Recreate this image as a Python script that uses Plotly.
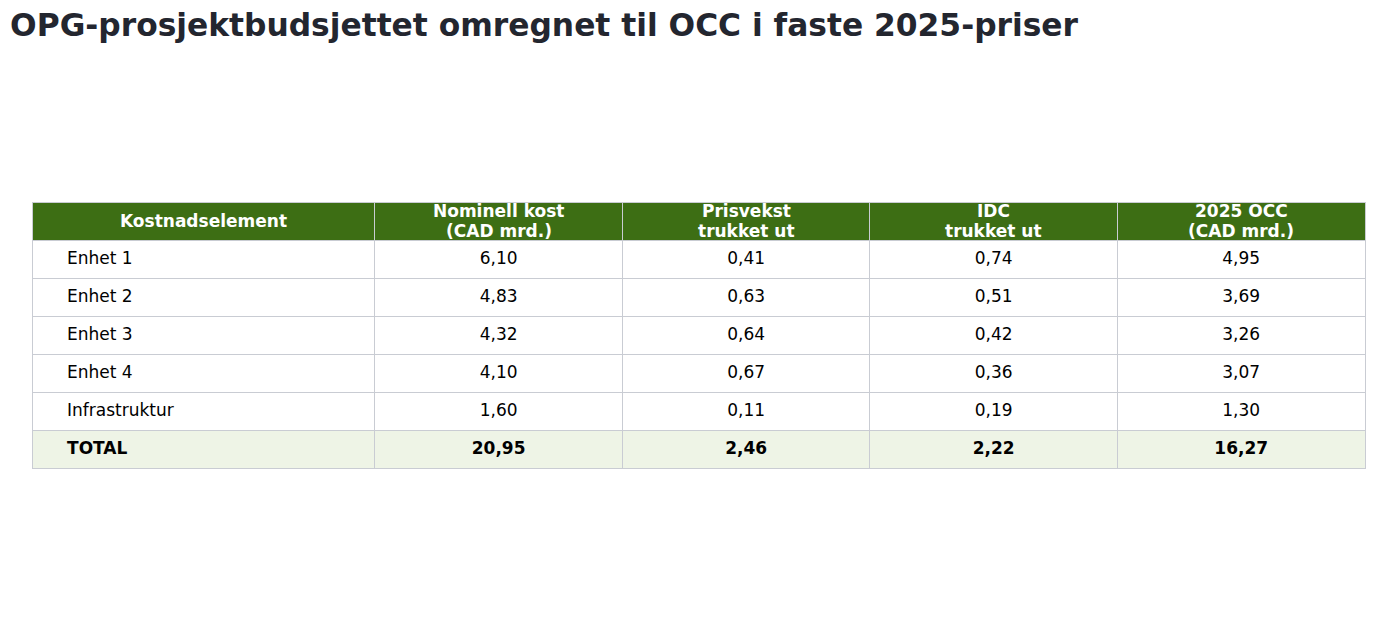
import plotly.graph_objects as go

GREEN = "#3d6e14"
LIGHT_GREEN = "#eef4e6"
LINE = "#c9ccd3"

headers = [["Kostnadselement"], ["Nominell kost", "(CAD mrd.)"], ["Prisvekst", "trukket ut"],
           ["IDC", "trukket ut"], ["2025 OCC", "(CAD mrd.)"]]
elements = ["Enhet 1", "Enhet 2", "Enhet 3", "Enhet 4", "Infrastruktur", "TOTAL"]
nominal = ["6,10", "4,83", "4,32", "4,10", "1,60", "20,95"]
inflation = ["0,41", "0,63", "0,64", "0,67", "0,11", "2,46"]
idc = ["0,74", "0,51", "0,42", "0,36", "0,19", "2,22"]
occ = ["4,95", "3,69", "3,26", "3,07", "1,30", "16,27"]
col_widths = [1.385, 1, 1, 1, 1]

pad = "\u00a0" * 5


def fmt(col, first=False):
    out = []
    for i, v in enumerate(col):
        lead = pad if first else ""
        if i == len(col) - 1:
            out.append(lead + "<b>" + v + "</b>")
        else:
            out.append("<span>" + lead + v + "</span>")
    return out


row_fill = ["white"] * (len(elements) - 1) + [LIGHT_GREEN]

fig = go.Figure(go.Table(
    columnwidth=col_widths,
    header=dict(
        values=[""] * len(headers),
        fill_color=GREEN,
        line_color=LINE,
        height=38,
    ),
    cells=dict(
        values=[fmt(elements, True), fmt(nominal), fmt(inflation), fmt(idc), fmt(occ)],
        fill_color=[row_fill] * 5,
        line_color=LINE,
        font=dict(color="black", size=17, family="DejaVu Sans"),
        align=["left", "center", "center", "center", "center"],
        height=38,
    ),
))

# header text as annotations so the two-line labels fit the 38px header row
total_w = sum(col_widths)
left = 0
for lines, w in zip(headers, col_widths):
    n = len(lines)
    for k, line in enumerate(lines):
        fig.add_annotation(
            text="<b>" + line + "</b>",
            x=(left + w / 2) / total_w, xref="paper", xanchor="center",
            y=1, yref="paper", yanchor="middle",
            yshift=-19 - (k - (n - 1) / 2) * 20,
            showarrow=False,
            font=dict(color="white", size=17, family="DejaVu Sans"),
        )
    left += w

fig.update_layout(
    title=dict(
        text="<b>OPG-prosjektbudsjettet omregnet til OCC i faste 2025-priser</b>",
        x=0.0015, xanchor="left", y=0.99, yanchor="top",
        font=dict(size=31.3, color="#23262f", family="DejaVu Sans"),
    ),
    font=dict(family="DejaVu Sans"),
    margin=dict(l=24, r=40, t=194, b=20),
    paper_bgcolor="white",
    width=1397,
    height=618,
)

fig.write_html("out.html")
